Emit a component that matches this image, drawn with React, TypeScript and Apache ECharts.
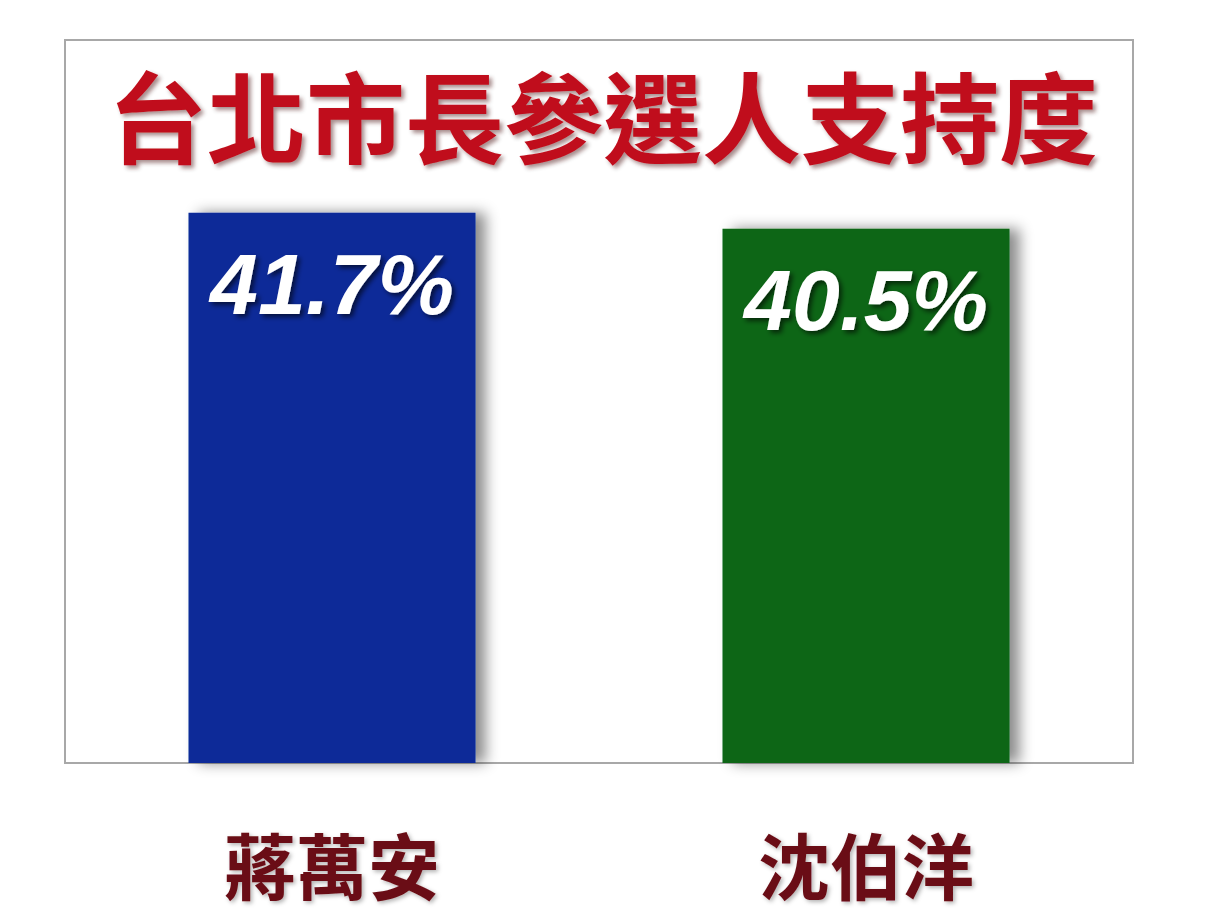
import React, { useEffect, useRef } from "react";
import * as echarts from "echarts";

const candidates = ["蔣萬安", "沈伯洋"];
const support = [41.7, 40.5];
const barColors = ["#0A2B98", "#0B6612"];
const titleText = "台北市長參選人支持度";

export default function App() {
  const ref = useRef<HTMLDivElement>(null);
  useEffect(() => {
    if (!ref.current) return;
    const chart = echarts.init(ref.current, null, { renderer: "svg" });
    chart.setOption({
      animation: false,
      backgroundColor: "#ffffff",
      title: {
        text: titleText,
        left: "center",
        top: 58,
        textStyle: {
          fontFamily: "Noto Sans CJK TC",
          fontWeight: "bold",
          fontSize: 99,
          color: "#C0101C",
          textShadowColor: "rgba(60,0,0,0.45)",
          textShadowBlur: 4,
          textShadowOffsetX: 3,
          textShadowOffsetY: 3,
        },
      },
      grid: {
        left: 65,
        right: 73,
        top: 40,
        bottom: 160,
        show: true,
        borderColor: "#a8a8a8",
        borderWidth: 2,
        backgroundColor: "transparent",
      },
      xAxis: {
        type: "category",
        data: candidates,
        axisLine: { show: false },
        axisTick: { show: false },
        axisLabel: {
          margin: 63,
          fontFamily: "Noto Sans CJK TC",
          fontWeight: "bold",
          fontSize: 72,
          color: "#6A0E16",
          textShadowColor: "rgba(0,0,0,0.3)",
          textShadowBlur: 4,
          textShadowOffsetX: 2,
          textShadowOffsetY: 2,
        },
      },
      yAxis: {
        type: "value",
        min: 0,
        max: 54.8,
        show: false,
        splitLine: { show: false },
      },
      series: [
        {
          type: "bar",
          barWidth: 287,
          data: support.map((v, i) => ({
            value: v,
            itemStyle: {
              color: barColors[i],
              shadowColor: "rgba(0,0,0,0.45)",
              shadowBlur: 14,
              shadowOffsetX: 10,
              shadowOffsetY: 0,
            },
          })),
          label: {
            show: true,
            position: "insideTop",
            distance: 28,
            formatter: (p: any) => p.value.toFixed(1) + "%",
            fontFamily: "Liberation Sans",
            fontWeight: "bold",
            fontStyle: "italic",
            fontSize: 86,
            color: "#ffffff",
            textShadowColor: "rgba(0,0,0,0.6)",
            textShadowBlur: 5,
            textShadowOffsetX: 3,
            textShadowOffsetY: 3,
          },
        },
      ],
    });
    return () => chart.dispose();
  }, []);
  return (
    <div
      ref={ref}
      style={{ position: "absolute", left: 0, top: 0, width: 1206, height: 923 }}
    />
  );
}
